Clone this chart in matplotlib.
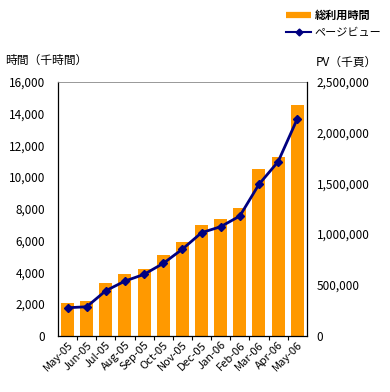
import matplotlib
matplotlib.use("Agg")
import matplotlib.pyplot as plt
from matplotlib.lines import Line2D
from matplotlib.ticker import FuncFormatter

plt.rcParams['font.family'] = ['Noto Sans CJK JP', 'DejaVu Sans']

months = ["May-05", "Jun-05", "Jul-05", "Aug-05", "Sep-05", "Oct-05", "Nov-05",
          "Dec-05", "Jan-06", "Feb-06", "Mar-06", "Apr-06", "May-06"]
hours = [2040, 2200, 3300, 3870, 4200, 5080, 5880, 6970, 7330, 8060, 10480, 11280, 14510]
pageviews = [275000, 285000, 443000, 538000, 604000, 712000, 852000,
             1014000, 1073000, 1178000, 1490000, 1713000, 2133000]

fig = plt.figure(figsize=(3.9, 3.92), dpi=100)
ax = fig.add_axes([0.1487, 0.1436, 0.638, 0.648])
x = range(len(months))
ax.bar(x, hours, width=0.68, color="#FF9900", zorder=2)
ax.set_xlim(-0.5, len(months) - 0.5)
ax.set_ylim(0, 16000)
ax.set_yticks(range(0, 16001, 2000))
ax.yaxis.set_major_formatter(FuncFormatter(lambda v, p: f"{int(v):,}"))
ax.set_xticks([i - 0.5 for i in range(1, len(months))])
ax.set_xticklabels([])
ax.set_xticks(list(x), minor=True)
ax.set_xticklabels(months, minor=True, rotation=45, ha="right", rotation_mode="anchor", fontsize=8)
ax.tick_params(axis="x", which="major", length=3, direction="out", width=0.8)
ax.tick_params(axis="x", which="minor", length=0, pad=3)
ax.tick_params(axis="y", length=0, labelsize=8.5, pad=9)
for s in ["left", "bottom"]:
    ax.spines[s].set_color("black")
    ax.spines[s].set_linewidth(0.9)
ax.spines["top"].set_color("#888888")
ax.spines["top"].set_linewidth(0.6)
ax.spines["right"].set_visible(False)

ax2 = ax.twinx()
ax2.plot(list(x), pageviews, color="#000080", lw=2, marker="D", markersize=4, zorder=3)
ax2.set_ylim(0, 2500000)
ax2.set_yticks(range(0, 2500001, 500000))
ax2.yaxis.set_major_formatter(FuncFormatter(lambda v, p: f"{int(v):,}"))
ax2.tick_params(axis="y", length=0, labelsize=8.5, pad=7)
ax2.spines["right"].set_color("black")
ax2.spines["right"].set_linewidth(0.9)
for s in ["top", "left", "bottom"]:
    ax2.spines[s].set_visible(False)

fig.text(0.013, 0.847, "時間（千時間）", fontsize=8.5, ha="left", va="center")
fig.text(0.81, 0.842, "PV（千頁）", fontsize=8.5, ha="left", va="center")

handles = [Line2D([], [], color="#FF9900", lw=4.5, solid_capstyle="butt"),
           Line2D([], [], color="#000080", lw=1.5, marker="D", markersize=3.5)]
leg = fig.legend(handles, ["総利用時間", "ページビュー"], loc="upper right",
                 bbox_to_anchor=(0.995, 0.995), frameon=False, fontsize=8,
                 handlelength=2.2, handletextpad=0.35, labelspacing=0.55, borderaxespad=0.2)
leg.get_texts()[0].set_fontweight("bold")

fig.savefig("out.png", dpi=100)
